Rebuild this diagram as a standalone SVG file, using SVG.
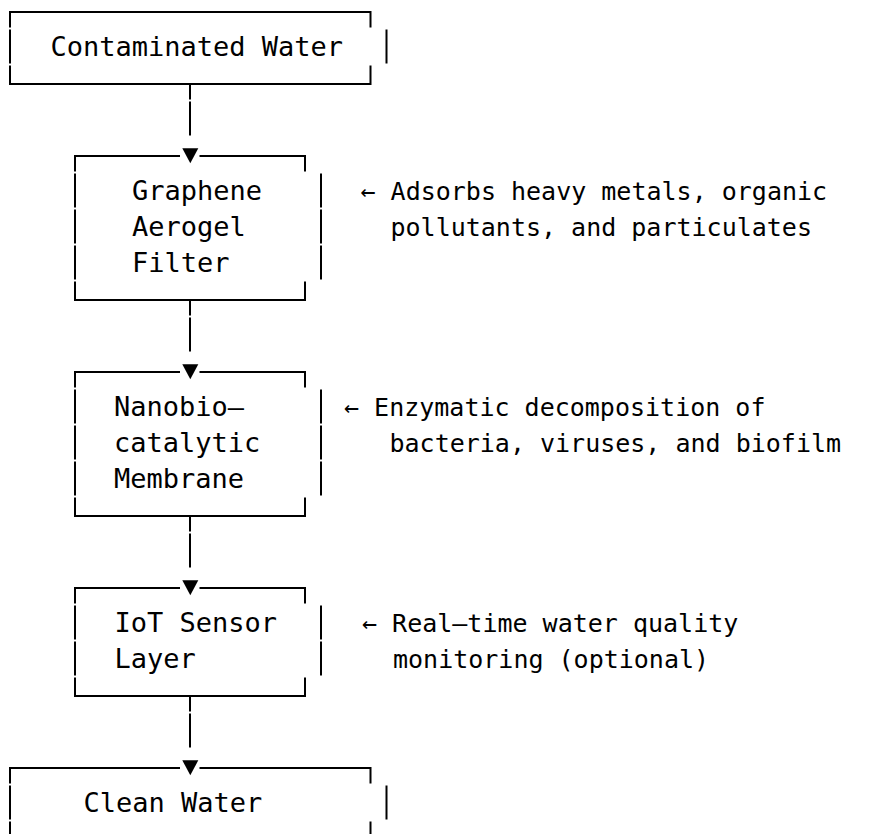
<svg xmlns="http://www.w3.org/2000/svg" width="891" height="834" viewBox="0 0 891 834">
<style>
.b{fill:none;stroke:#000;stroke-width:2;stroke-linecap:butt;stroke-linejoin:miter}
.t{font-family:"DejaVu Sans Mono",monospace;font-size:27px;fill:#000}
.a{font-family:"DejaVu Sans Mono",monospace;font-size:25px;fill:#000}
.c{fill:none;stroke:#000;stroke-width:2}
</style>
<defs>
<path id="tri" d="M-8 -7.7 H8 L0 7.3 Z" fill="#000"/>
</defs>
<rect width="891" height="834" fill="#fff"/>
<g id="contaminated-water">
<path class="b" d="M10 27.5 V12 H370.5 V27.5 M10 29.5 V63.5 M386.5 29.5 V63.5 M10 65.5 V84 H370.5 V65.5"/>
<text class="t" x="50.5" y="56">Contaminated Water</text>
</g>
<g id="graphene-aerogel-filter">
<path class="b" d="M75 171.5 V156 H180 M199.5 156 H305 V171.5 M75 173.5 V207.5 M75 209.5 V243.5 M75 245.5 V279.5 M321 173.5 V207.5 M321 209.5 V243.5 M321 245.5 V279.5 M75 281.5 V300 H305 V281.5"/>
<text class="t" x="132" y="200">Graphene</text>
<text class="t" x="132" y="236">Aerogel</text>
<text class="t" x="132" y="272">Filter</text>
<text class="a" x="360.5" y="200">← Adsorbs heavy metals, organic</text>
<text class="a" x="390.5" y="236">pollutants, and particulates</text>
</g>
<g id="nanobiocatalytic-membrane">
<path class="b" d="M75 387.5 V372 H180 M199.5 372 H305 V387.5 M75 389.5 V423.5 M75 425.5 V459.5 M75 461.5 V495.5 M321 389.5 V423.5 M321 425.5 V459.5 M321 461.5 V495.5 M75 497.5 V516 H305 V497.5"/>
<text class="t" x="114" y="416">Nanobio–</text>
<text class="t" x="114" y="452">catalytic</text>
<text class="t" x="114" y="488">Membrane</text>
<text class="a" x="344" y="416">← Enzymatic decomposition of</text>
<text class="a" x="389.5" y="452">bacteria, viruses, and biofilm</text>
</g>
<g id="iot-sensor-layer">
<path class="b" d="M75 603.5 V588 H180 M199.5 588 H305 V603.5 M75 605.5 V639.5 M75 641.5 V675.5 M321 605.5 V639.5 M321 641.5 V675.5 M75 677.5 V696 H305 V677.5"/>
<text class="t" x="114.5" y="632">IoT Sensor</text>
<text class="t" x="114.5" y="668">Layer</text>
<text class="a" x="362" y="632">← Real–time water quality</text>
<text class="a" x="393" y="668">monitoring (optional)</text>
</g>
<g id="clean-water">
<path class="b" d="M10 783.5 V768 H180 M199.5 768 H370.5 V783.5 M10 785.5 V819.5 M386.5 785.5 V819.5 M10 821.5 V840 H370.5 V821.5"/>
<text class="t" x="83.5" y="812">Clean Water</text>
</g>
<g id="connectors">
<path class="c" d="M190 84 V99.5 M190 101.5 V135.5"/>
<use href="#tri" x="190.3" y="156"/>
<path class="c" d="M190 300 V315.5 M190 317.5 V351.5"/>
<use href="#tri" x="190.3" y="372"/>
<path class="c" d="M190 516 V531.5 M190 533.5 V567.5"/>
<use href="#tri" x="190.3" y="588"/>
<path class="c" d="M190 696 V711.5 M190 713.5 V747.5"/>
<use href="#tri" x="190.3" y="768"/>
</g>
</svg>
